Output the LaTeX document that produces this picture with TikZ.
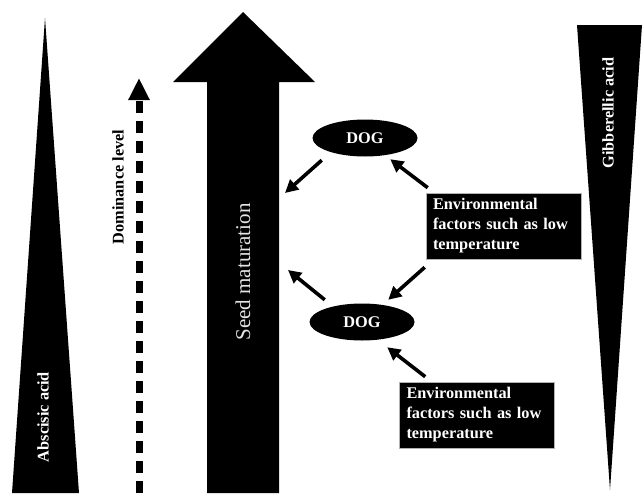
\documentclass[tikz,border=0pt]{standalone}
\usepackage{fontspec}
\setmainfont{Liberation Serif}
\usetikzlibrary{arrows.meta,shapes.geometric}
\tikzset{
  dog/.style={ellipse, fill=black, text=white, inner sep=0pt, minimum width=105pt, minimum height=37pt, font=\bfseries\fontsize{16.3}{18}\selectfont},
  envbox/.style={rectangle, fill=black, draw=gray!60, line width=0.6pt, text=white, inner xsep=7pt, inner ysep=1pt, minimum width=155pt, minimum height=66pt, text width=141pt, align=left, font=\bfseries\fontsize{16.3}{20}\selectfont},
  arr/.style={line width=3.6pt, -{Triangle[length=13pt,width=13pt]}},
  vlabel/.style={rotate=90, font=\bfseries\fontsize{16.3}{18}\selectfont},
}
\begin{document}
\begin{tikzpicture}[x=1pt,y=-1pt]
\useasboundingbox (0,0) rectangle (643,493);
% triangles
\fill[black] (45,18) -- (79,493) -- (12,493) -- cycle;
\fill[black] (577,25) -- (642,25) -- (610,490) -- cycle;
% big arrow
\fill[black] (207,493) -- (207,82) -- (173,82) -- (243,12) -- (315,82) -- (279,82) -- (279,493) -- cycle;
% dashed arrow
\coordinate (dbot) at (139,493);
\coordinate (dtop) at (139,78);
\draw[line width=7pt, dash pattern=on 12pt off 8pt, -{Triangle[length=22pt,width=20pt]}] (dbot) -- (dtop);
% labels
\node[vlabel, text=white] (aba) at (43,417) {Abscisic acid};
\node[vlabel, text=black] (dom) at (118,187) {Dominance level};
\node[rotate=90, text=white!90!black, font=\fontsize{21}{24}\selectfont] (seed) at (243,272) {Seed maturation};
\node[vlabel, text=white] (ga) at (608,113) {Gibberellic acid};
% DOG nodes
\node[dog] (dog1) at (365,138) {DOG};
\node[dog] (dog2) at (362,322) {DOG};
% boxes
\node[envbox] (e1) at (503.5,226) {Environmental\\\makebox[139pt][s]{factors such as low}\\temperature};
\node[envbox] (e2) at (477,415) {Environmental\\\makebox[139pt][s]{factors such as low}\\temperature};
% targets on the shaft
\coordinate (s1) at (285,193);
\coordinate (s2) at (288,270);
% arrows
\draw[arr] ([shift={(-6,9)}]dog1.south west) -- (s1);
\draw[arr] ([shift={(2,-5)}]e1.north west) -- ([shift={(-12,8)}]dog1.south east);
\draw[arr] ([shift={(-1,8)}]e1.south west) -- ([shift={(-11,-9)}]dog2.north east);
\draw[arr] ([shift={(0,-9)}]dog2.north west) -- (s2);
\draw[arr] ([shift={(26,-5)}]e2.north west) -- ([shift={(-12,12)}]dog2.south east);
\end{tikzpicture}
\end{document}
